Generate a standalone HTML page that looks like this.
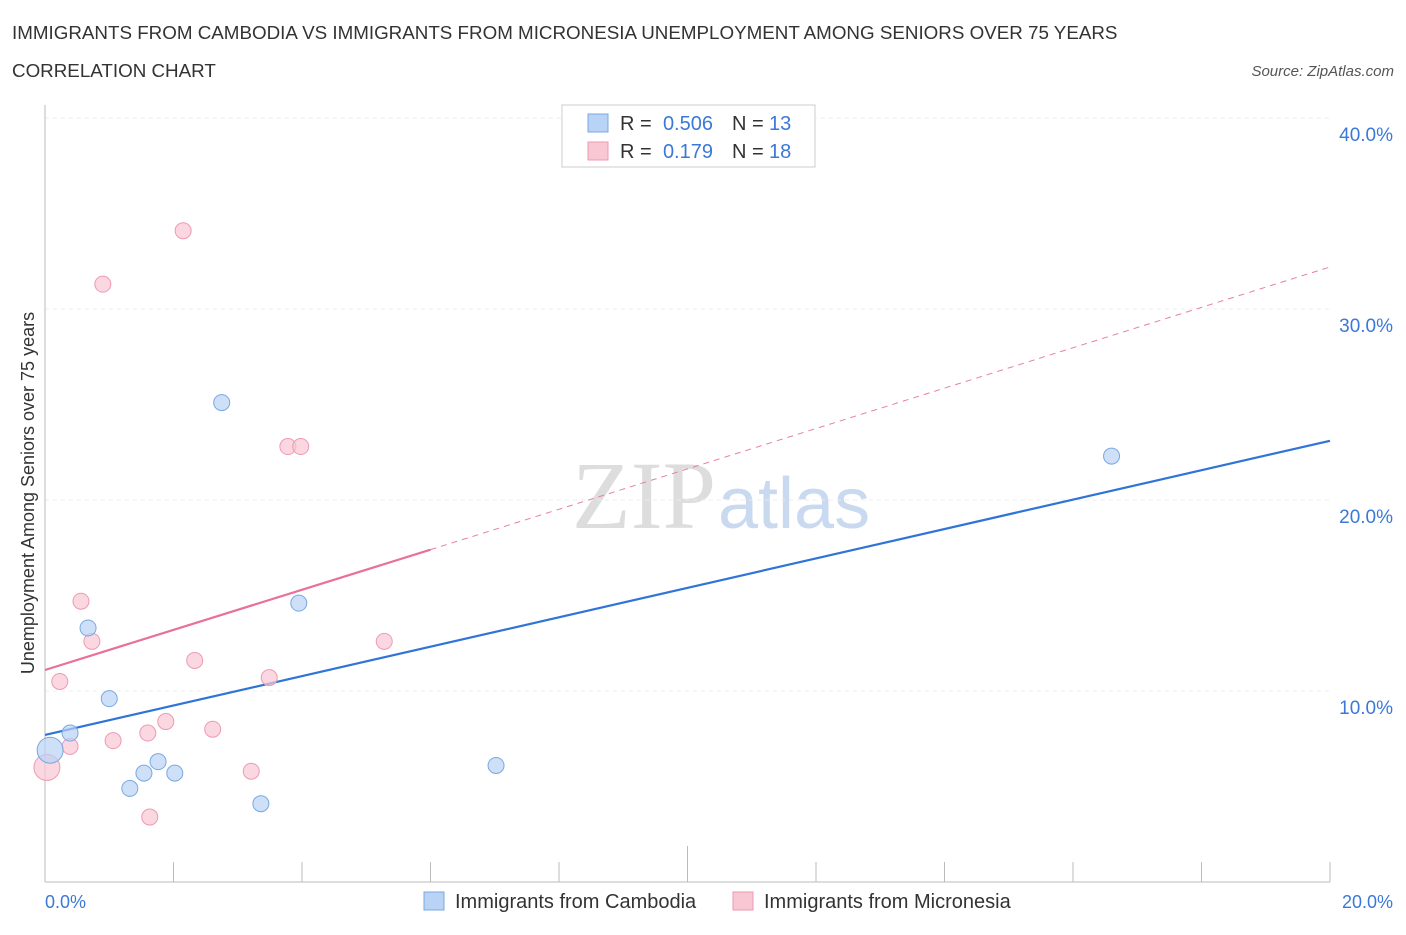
<!DOCTYPE html>
<html><head><meta charset="utf-8"><style>
body{margin:0;background:#fff;font-family:"Liberation Sans",sans-serif;}
</style></head><body>
<svg width="1406" height="930" xmlns="http://www.w3.org/2000/svg" id="svg" font-family="Liberation Sans, sans-serif">
<text x="12" y="39" font-size="18.8" fill="#333">IMMIGRANTS FROM CAMBODIA VS IMMIGRANTS FROM MICRONESIA UNEMPLOYMENT AMONG SENIORS OVER 75 YEARS</text>
<text x="12" y="77" font-size="18.8" fill="#333">CORRELATION CHART</text>
<text x="1394" y="76" font-size="15" fill="#555" font-style="italic" text-anchor="end">Source: ZipAtlas.com</text>
<text x="716" y="528" font-size="96" fill="#ddd" font-family="Liberation Serif, serif" text-anchor="end">ZIP</text>
<text x="718" y="528" font-size="72" fill="#c9d9f0">atlas</text>
<g id="grid"></g><g id="axes"></g><g id="lines"></g><g id="pts"></g>
<text transform="translate(34,493) rotate(-90)" font-size="18" fill="#333" text-anchor="middle">Unemployment Among Seniors over 75 years</text>
<g>
<rect x="562" y="105" width="253" height="62" fill="#fff" stroke="#ccc"/>
<rect x="588" y="114" width="20" height="18" fill="#b8d3f5" stroke="#7aa8e0"/>
<rect x="588" y="142" width="20" height="18" fill="#f9c6d4" stroke="#ee9ab2"/>
<text x="620" y="130" font-size="20" fill="#333">R =</text>
<text x="713" y="130" font-size="20" fill="#3b78d8" text-anchor="end">0.506</text>
<text x="732" y="130" font-size="20" fill="#333">N =</text>
<text x="769" y="130" font-size="20" fill="#3b78d8">13</text>
<text x="620" y="158" font-size="20" fill="#333">R =</text>
<text x="713" y="158" font-size="20" fill="#3b78d8" text-anchor="end">0.179</text>
<text x="732" y="158" font-size="20" fill="#333">N =</text>
<text x="769" y="158" font-size="20" fill="#3b78d8">18</text>
</g>
<g>
<rect x="424" y="892" width="20" height="18" fill="#b8d3f5" stroke="#7aa8e0"/>
<text x="455" y="908" font-size="20" fill="#333">Immigrants from Cambodia</text>
<rect x="733" y="892" width="20" height="18" fill="#f9c6d4" stroke="#ee9ab2"/>
<text x="764" y="908" font-size="20" fill="#333">Immigrants from Micronesia</text>
</g>
</svg>
<script>
const yTicks=[10,20,30,40];
const yTickLabels=["10.0%","20.0%","30.0%","40.0%"];
const xTickLabels=["0.0%","20.0%"];
const camX=[0.08,0.39,0.67,1.0,1.32,1.54,1.76,2.02,2.75,3.36,3.95,7.02,16.6];
const camY=[6.9,7.8,13.3,9.6,4.9,5.7,6.3,5.7,25.1,4.1,14.6,6.1,22.3];
const micX=[0.03,0.23,0.39,0.56,0.73,0.9,1.06,1.6,1.63,1.88,2.15,2.33,2.61,3.21,3.49,3.78,3.98,5.28];
const micY=[6.0,10.5,7.1,14.7,12.6,31.3,7.4,7.8,3.4,8.4,34.1,11.6,8.0,5.8,10.7,22.8,22.8,12.6];
const camFit=[7.7,23.1];
const micFit=[11.1,17.4,32.2];
const X=v=>45+v/20*1285, Y=v=>882-v*19.1;
const NS="http://www.w3.org/2000/svg";
function mk(p,t,a){const e=document.createElementNS(NS,t);for(const k in a)e.setAttribute(k,a[k]);document.getElementById(p).appendChild(e);return e;}
yTicks.forEach((t,i)=>{
 const l=mk('grid','line',{x1:45,x2:1330,y1:Y(t),y2:Y(t),stroke:'#ececec','stroke-dasharray':'4,4'});
 
 
 const tx=mk('grid','text',{x:1393,y:Y(t)+23,'font-size':19,fill:'#3b78d8','text-anchor':'end'});
 tx.textContent=yTickLabels[i];
 
 
});
let a=mk('axes','line',{x1:45,x2:45,y1:105,y2:882,stroke:'#bbb'});


a=mk('axes','line',{x1:45,x2:1330,y1:882,y2:882,stroke:'#bbb'});


for(let i=0;i<=10;i++){const t=mk('axes','line',{x1:X(i*2),x2:X(i*2),y1:i==5?846:862,y2:882,stroke:'#bbb'});
 
 }
[[0,'start',45],[1,'end',1393]].forEach(([i,an,x])=>{const t=mk('axes','text',{x:x,y:908,'font-size':18,fill:'#3b78d8','text-anchor':an});t.textContent=xTickLabels[i];
 
 });
let ln=mk('lines','line',{x1:X(0),y1:Y(camFit[0]),x2:X(20),y2:Y(camFit[1]),stroke:'#2f74d6','stroke-width':2.2});


ln=mk('lines','line',{x1:X(6),y1:Y(micFit[1]),x2:X(20),y2:Y(micFit[2]),stroke:'#e8809f','stroke-width':1,'stroke-dasharray':'6,5'});


ln=mk('lines','line',{x1:X(0),y1:Y(micFit[0]),x2:X(6),y2:Y(micFit[1]),stroke:'#e8709a','stroke-width':2.2});


micX.forEach((x,i)=>{const c=mk('pts','circle',{cx:X(x),cy:Y(micY[i]),r:i==0?13:8,fill:'#f9c6d4','fill-opacity':0.7,stroke:'#ee9ab2'});
 
 });
camX.forEach((x,i)=>{const c=mk('pts','circle',{cx:X(x),cy:Y(camY[i]),r:i==0?13:8,fill:'#b8d3f5','fill-opacity':0.7,stroke:'#7aa8e0'});
 
 });
</script>
</body></html>
